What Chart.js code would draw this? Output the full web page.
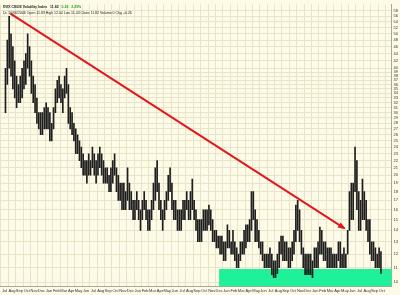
<!DOCTYPE html>
<html>
<head>
<meta charset="utf-8">
<script src="https://cdn.jsdelivr.net/npm/chart.js@4.4.1/dist/chart.umd.min.js"></script>
<style>
  html, body { margin: 0; padding: 0; background: #fdfbe8; }
  canvas { display: block; }
</style>
</head>
<body>
<canvas id="chart" width="400" height="295"></canvas>
<script>
// month tick labels, Jul 2002 .. Oct 2006
const monthLabels = ["Jul","Aug","Sep","Oct","Nov","Dec",
  "Jan","Feb","Mar","Apr","May","Jun","Jul","Aug","Sep","Oct","Nov","Dec",
  "Jan","Feb","Mar","Apr","May","Jun","Jul","Aug","Sep","Oct","Nov","Dec",
  "Jan","Feb","Mar","Apr","May","Jun","Jul","Aug","Sep","Oct","Nov","Dec",
  "Jan","Feb","Mar","Apr","May","Jun","Jul","Aug","Sep","Oct"];

// right axis labels
const yTicks = [10,11,12,13,14,15,16,17,18,19,20,21,22,23,24,25,26,27,28,29,30,
  31,32,33,34,35,36,37,38,39,40,42,44,46,48,50,52,54,56,58];

// weekly high / low of $VIX (4 per month)
const highs = [
  40,48,56,50,  46,42,38,36,  38,40,42,44,  50,46,42,38,  36,33,30,30,  30,31,32,31,
  30,28,31,35,  37,38,36,35,  38,40,36,31,  30,28,27,26,  25,24,23,22,  22,23,22,24,
  23,22,23,24,  23,22,21,21,  20,21,22,23,  21,20,19,19,  19,18,21,19,  18,17,17,18,
  17,16,17,18,  17,16,16,17,  19,21,22,19,  17,16,17,18,  20,21,19,17,  17,16,16,16,
  17,17,18,17,  18,19.5,17,16,  15,15,15,16,  16,16,16.5,16,  15,14,14,13.5,  13.5,13.5,13,13,
  14.5,14,13,14,  13,12.5,12,13,  13,14,14.5,14.5,  15,18,18,16,  15,14,13,13,  12,12,12,12.5,
  12,11.5,11.5,12,  13,13.5,13.5,13,  13,12.5,12.5,13,  14,16.5,17,16,  14,12.5,12,12,  12,12,11.5,12.5,
  12.5,13,14.3,14,  13,13,12.5,12.5,  12.5,12,12,12,  13,13,12,12.5,  12,14,18,19,  19,24,22,18,
  17,19.5,18,17,  15,15,13,13,  12.5,12,12.5,12.2];
const lows = [
  30,36,40,38,  35,33,31,32,  32,33,35,36,  40,38,34,32,  30,28,27,26,  26,27,27,27,
  25,25,27,30,  32,33,32,30,  33,34,28,27,  26,25,23,23,  22,21,20,20,  19,20,20,21,
  20,19,20,21,  20,19,19,19,  18,18,19,20,  18,17,17,16,  16,16,17,16,  16,15,15,16,
  15,14,15,16,  15,14,14,15,  16,17,18,16,  15,14,15,16,  17,18,16,15,  15,14,14,14,
  15,15,16,15,  15,16,15,14,  13,13,13,14,  14,14,14.5,14,  13,13,12.5,12.5,  12,12,11.5,11.5,
  12.5,12.5,12,12,  11.5,11,11,11.5,  12,12,12.5,13,  13,14,15,13,  13,12.5,12,11.5,  11,11,11,11,
  10.5,10.3,10.3,10.6,  11,12,11.5,11.5,  11.5,11,11,11.5,  12,13,14,13,  12,11,10.5,10.5,  10.5,10.5,10.3,11,
  11,11,12,12,  11.5,11.5,11,11,  11,11,11,11,  11.5,11,11,11,  11,12,14,15,  15,18,16,14,
  14,15,15,14,  13,12,11.5,11.5,  11,11,11,10.6];

// red trend arrow (month index, value) and green support zone
const arrowFrom = { x: 0.8, y: 57 };
const arrowTo = { x: 45.9, y: 14.2 };
const zoneStart = 29.0, zoneLow = 9.75, zoneHigh = 10.9;

const bars = highs.map((h, i) => ({ x: i / 4 + 0.125, y: [lows[i], h] }));

const paperPlugin = {
  id: 'paper',
  beforeDraw(c) {
    const ctx = c.ctx;
    ctx.save();
    ctx.fillStyle = '#fdfbe8';
    ctx.fillRect(0, 0, c.width, c.height);
    ctx.restore();
  },
  beforeDatasetsDraw(c) {
    const ctx = c.ctx, x = c.scales.x, y = c.scales.y;
    const x0 = x.getPixelForValue(zoneStart), x1 = c.chartArea.right;
    const y0 = y.getPixelForValue(zoneHigh), y1 = y.getPixelForValue(zoneLow);
    ctx.save();
    ctx.fillStyle = '#1ff19a';
    ctx.fillRect(x0, y0, x1 - x0, y1 - y0);
    ctx.restore();
  },
  afterDatasetsDraw(c) {
    const ctx = c.ctx;
    const pts = c.getDatasetMeta(1).data;
    const a = pts[0], b = pts[1];
    const ang = Math.atan2(b.y - a.y, b.x - a.x);
    ctx.save();
    ctx.fillStyle = '#e0191e';
    ctx.beginPath();
    ctx.moveTo(b.x + 2 * Math.cos(ang), b.y + 2 * Math.sin(ang));
    ctx.lineTo(b.x - 6 * Math.cos(ang) + 3 * Math.sin(ang), b.y - 6 * Math.sin(ang) - 3 * Math.cos(ang));
    ctx.lineTo(b.x - 6 * Math.cos(ang) - 3 * Math.sin(ang), b.y - 6 * Math.sin(ang) + 3 * Math.cos(ang));
    ctx.closePath();
    ctx.fill();

    // header text
    const l = c.chartArea.left + 3, t = c.chartArea.top + 3;
    ctx.font = 'bold 3.5px "Liberation Sans"';
    ctx.textBaseline = 'middle';
    ctx.fillStyle = '#222';
    let s = '$VIX CBOE Volatility Index   11.82  ';
    ctx.fillText(s, l, t);
    ctx.fillStyle = '#19a319';
    ctx.fillText(' 0.26   2.25%', l + ctx.measureText(s).width, t);
    ctx.font = '3.5px "Liberation Sans"';
    ctx.fillStyle = '#222';
    ctx.fillText('Dc 10/06/2006 Open 11.83 High 12.04 Low 11.43 Close 11.82 Volume 0 Chg +0.26', l, t + 6);
    ctx.restore();
  }
};

new Chart(document.getElementById('chart'), {
  type: 'bar',
  data: {
    datasets: [
      {
        type: 'bar',
        data: bars,
        backgroundColor: '#1e1e1e',
        barThickness: 1,
        grouped: false
      },
      {
        type: 'line',
        data: [arrowFrom, arrowTo],
        borderColor: '#e0191e',
        borderWidth: 2,
        pointRadius: 0
      }
    ]
  },
  options: {
    responsive: false,
    animation: false,
    devicePixelRatio: 1,
    layout: { padding: { left: 0, top: 2, right: 0, bottom: 0 } },
    plugins: { legend: { display: false }, tooltip: { enabled: false } },
    scales: {
      x: {
        type: 'linear',
        min: -0.1,
        max: 51.8,
        afterBuildTicks: s => { s.ticks = monthLabels.map((m, i) => ({ value: i })); },
        ticks: {
          autoSkip: false, maxRotation: 0, padding: 2,
          font: { size: 4, family: 'Liberation Sans' }, color: '#333',
          callback: v => monthLabels[v]
        },
        grid: { color: '#e8e4c8', drawTicks: false },
        border: { color: '#a8a898' }
      },
      y: {
        type: 'logarithmic',
        position: 'right',
        min: 9.75,
        max: 60.5,
        afterBuildTicks: s => { s.ticks = yTicks.map(v => ({ value: v })); },
        ticks: {
          autoSkip: false, padding: 2,
          font: { size: 4, family: 'Liberation Sans' }, color: '#333',
          callback: v => String(v)
        },
        grid: { color: '#e8e4c8', drawTicks: false },
        border: { color: '#a8a898' }
      }
    }
  },
  plugins: [paperPlugin]
});
</script>
</body>
</html>
